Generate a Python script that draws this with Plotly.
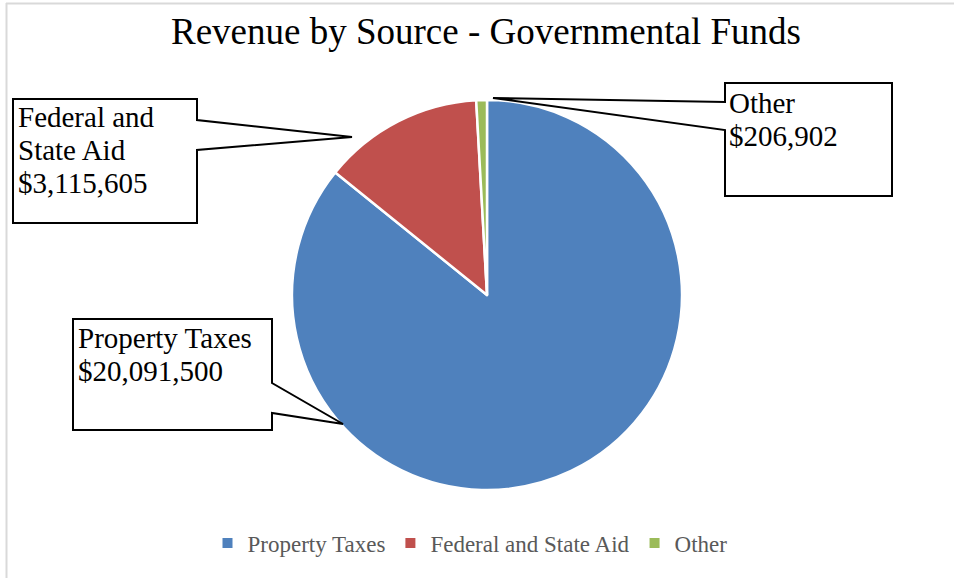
import plotly.graph_objects as go

W, H = 954, 578

labels = ["Property Taxes", "Federal and State Aid", "Other"]
values = [20091500, 3115605, 206902]
colors = ["#4F81BD", "#C0504D", "#9BBB59"]
box_lines = [["Property Taxes", "$20,091,500"],
             ["Federal and", "State Aid", "$3,115,605"],
             ["Other", "$206,902"]]

def px(x):
    return x / W

def py(y):
    return 1 - y / H

fig = go.Figure()
fig.add_trace(go.Pie(
    labels=labels, values=values, sort=False, direction="clockwise", rotation=0,
    marker=dict(colors=colors, line=dict(color="white", width=2.5)),
    textinfo="none", hoverinfo="label+value+percent",
    domain=dict(x=[px(292), px(682)], y=[py(490), py(100)]),
))

# callout boxes: (left, top, right, bottom), wedge side, wedge y1, y2, tip
callouts = [
    dict(box=(73, 319, 272, 430), side="right", w=(383, 413), tip=(343, 424), text_x=77, base=348),
    dict(box=(13, 99, 197, 223), side="right", w=(120, 150), tip=(352, 137), text_x=17, base=127),
    dict(box=(725, 83, 892, 196), side="left", w=(102, 130), tip=(493, 98), text_x=728, base=113),
]

shapes = []
annotations = []
FS = 29
LS = 33
for c, lines in zip(callouts, box_lines):
    l, t, r, b = c["box"]
    w1, w2 = c["w"]
    tx, ty = c["tip"]
    if c["side"] == "right":
        pts = [(l, t), (r, t), (r, w1), (tx, ty), (r, w2), (r, b), (l, b)]
    else:
        pts = [(l, t), (r, t), (r, b), (l, b), (l, w2), (tx, ty), (l, w1)]
    path = "M " + " L ".join(f"{px(x)},{py(y)}" for x, y in pts) + " Z"
    shapes.append(dict(type="path", xref="paper", yref="paper", path=path,
                       line=dict(color="black", width=2), fillcolor="white", layer="above"))
    for i, line in enumerate(lines):
        base = c["base"] + i * LS
        annotations.append(dict(
            text=line, xref="paper", yref="paper", x=px(c["text_x"] - 1), y=py(base - 0.33 * FS),
            xanchor="left", yanchor="middle", showarrow=False,
            font=dict(family="Liberation Serif", size=FS, color="black"),
        ))

# chart frame
shapes.append(dict(type="line", xref="paper", yref="paper", x0=px(6.5), x1=px(6.5), y0=py(3), y1=py(578),
                   line=dict(color="#D9D9D9", width=2)))
shapes.append(dict(type="line", xref="paper", yref="paper", x0=px(6), x1=px(954), y0=py(3.5), y1=py(3.5),
                   line=dict(color="#D9D9D9", width=2)))

annotations.append(dict(
    text="Revenue by Source - Governmental Funds", xref="paper", yref="paper",
    x=px(486), y=py(44 - 0.33 * 37), xanchor="center", yanchor="middle", showarrow=False,
    font=dict(family="Liberation Serif", size=37, color="black"),
))

fig.update_layout(
    width=W, height=H, margin=dict(l=0, r=0, t=0, b=0),
    paper_bgcolor="white", plot_bgcolor="white",
    shapes=shapes, annotations=annotations,
    showlegend=True,
    legend=dict(orientation="h", x=px(470), y=py(543), xanchor="center", yanchor="middle",
                font=dict(family="Liberation Serif", size=23, color="#595959"),
                itemsizing="constant"),
)

fig.write_html("out.html")
